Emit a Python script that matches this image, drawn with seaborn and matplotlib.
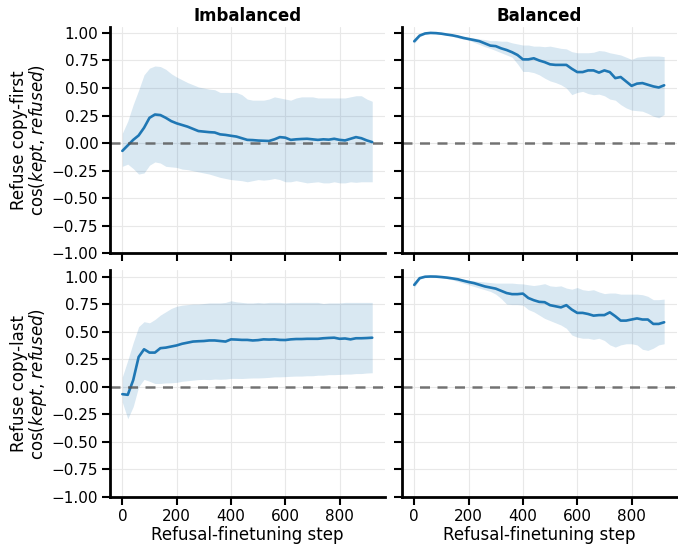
import numpy as np
import pandas as pd
import matplotlib
matplotlib.use("Agg")
import matplotlib.pyplot as plt
import seaborn as sns

steps = list(range(0, 921, 20))

imb_first_mean = [-0.07, -0.02, 0.03, 0.07, 0.14, 0.23, 0.26, 0.255, 0.23, 0.20, 0.18, 0.165, 0.15, 0.13, 0.11, 0.105,
                  0.10, 0.097, 0.08, 0.075, 0.067, 0.06, 0.045, 0.03, 0.028, 0.024, 0.022, 0.02, 0.035, 0.055, 0.05,
                  0.03, 0.035, 0.038, 0.04, 0.035, 0.03, 0.035, 0.032, 0.04, 0.03, 0.025, 0.04, 0.055, 0.045, 0.025, 0.01]
imb_first_hi = [0.09, 0.20, 0.35, 0.48, 0.62, 0.68, 0.70, 0.695, 0.67, 0.63, 0.60, 0.575, 0.55, 0.53, 0.51, 0.50,
                0.49, 0.485, 0.46, 0.46, 0.46, 0.46, 0.44, 0.40, 0.39, 0.39, 0.39, 0.40, 0.42, 0.41, 0.40,
                0.39, 0.41, 0.42, 0.42, 0.42, 0.41, 0.41, 0.41, 0.41, 0.41, 0.41, 0.42, 0.43, 0.43, 0.40, 0.38]
imb_first_lo = [-0.21, -0.19, -0.23, -0.28, -0.27, -0.20, -0.17, -0.18, -0.21, -0.215, -0.22, -0.235, -0.24, -0.25,
                -0.26, -0.27, -0.28, -0.295, -0.31, -0.32, -0.33, -0.335, -0.34, -0.35, -0.34, -0.33, -0.335, -0.33,
                -0.32, -0.33, -0.35, -0.35, -0.34, -0.35, -0.36, -0.355, -0.35, -0.36, -0.36, -0.35, -0.36, -0.36,
                -0.35, -0.355, -0.35, -0.35, -0.35]

bal_first_mean = [0.924, 0.976, 0.995, 1.0, 0.998, 0.993, 0.985, 0.978, 0.968, 0.955, 0.945, 0.935, 0.925, 0.905,
                  0.885, 0.88, 0.86, 0.845, 0.825, 0.80, 0.76, 0.76, 0.77, 0.75, 0.735, 0.715, 0.71, 0.71, 0.71,
                  0.675, 0.645, 0.645, 0.66, 0.66, 0.64, 0.66, 0.645, 0.59, 0.60, 0.56, 0.52, 0.54, 0.545, 0.53,
                  0.515, 0.505, 0.525]
bal_first_hi = [0.94, 0.985, 1.0, 1.0, 1.0, 0.998, 0.99, 0.985, 0.978, 0.97, 0.96, 0.955, 0.945, 0.94, 0.93, 0.93,
                0.925, 0.925, 0.91, 0.90, 0.89, 0.89, 0.88, 0.88, 0.875, 0.88, 0.87, 0.86, 0.855, 0.83, 0.82, 0.82,
                0.82, 0.825, 0.84, 0.835, 0.82, 0.81, 0.80, 0.78, 0.76, 0.78, 0.785, 0.79, 0.79, 0.79, 0.785]
bal_first_lo = [0.905, 0.965, 0.99, 0.997, 0.995, 0.988, 0.98, 0.97, 0.955, 0.945, 0.935, 0.915, 0.895, 0.875, 0.86,
                0.84, 0.82, 0.80, 0.78, 0.72, 0.65, 0.65, 0.64, 0.62, 0.59, 0.565, 0.55, 0.53, 0.50, 0.44, 0.46,
                0.47, 0.45, 0.44, 0.445, 0.43, 0.40, 0.39, 0.35, 0.32, 0.30, 0.295, 0.29, 0.27, 0.245, 0.23, 0.26]

imb_last_mean = [-0.067, -0.073, 0.06, 0.27, 0.34, 0.31, 0.31, 0.35, 0.355, 0.365, 0.375, 0.39, 0.40, 0.41, 0.413,
                 0.415, 0.42, 0.42, 0.415, 0.41, 0.43, 0.428, 0.425, 0.425, 0.42, 0.423, 0.43, 0.428, 0.43, 0.425,
                 0.424, 0.43, 0.433, 0.433, 0.435, 0.435, 0.435, 0.44, 0.443, 0.445, 0.435, 0.438, 0.43, 0.44, 0.44,
                 0.442, 0.445]
imb_last_hi = [0.09, 0.24, 0.40, 0.545, 0.59, 0.58, 0.61, 0.65, 0.68, 0.71, 0.73, 0.74, 0.745, 0.75, 0.75, 0.755,
               0.76, 0.76, 0.76, 0.765, 0.78, 0.77, 0.765, 0.76, 0.76, 0.765, 0.76, 0.765, 0.765, 0.765, 0.76,
               0.765, 0.765, 0.765, 0.765, 0.765, 0.765, 0.755, 0.76, 0.76, 0.76, 0.765, 0.765, 0.765, 0.765,
               0.765, 0.765]
imb_last_lo = [-0.14, -0.29, -0.18, 0.0, 0.067, 0.05, 0.03, 0.03, 0.035, 0.036, 0.04, 0.05, 0.055, 0.06, 0.065,
               0.067, 0.065, 0.07, 0.068, 0.07, 0.076, 0.076, 0.075, 0.078, 0.08, 0.08, 0.082, 0.085, 0.09, 0.09,
               0.092, 0.095, 0.097, 0.097, 0.10, 0.10, 0.105, 0.105, 0.11, 0.11, 0.112, 0.115, 0.115, 0.12, 0.12,
               0.125, 0.127]

bal_last_mean = [0.924, 0.985, 0.998, 1.0, 0.999, 0.995, 0.99, 0.983, 0.975, 0.962, 0.95, 0.94, 0.925, 0.91, 0.9,
                 0.89, 0.87, 0.85, 0.84, 0.84, 0.845, 0.805, 0.785, 0.77, 0.767, 0.74, 0.73, 0.72, 0.74, 0.70, 0.67,
                 0.67, 0.66, 0.645, 0.65, 0.65, 0.675, 0.64, 0.60, 0.60, 0.61, 0.62, 0.61, 0.61, 0.57, 0.57, 0.585]
bal_last_hi = [0.94, 0.99, 1.0, 1.0, 1.0, 1.0, 0.998, 0.99, 0.985, 0.975, 0.965, 0.96, 0.955, 0.95, 0.945, 0.94,
               0.94, 0.94, 0.94, 0.935, 0.933, 0.925, 0.918, 0.925, 0.935, 0.915, 0.91, 0.915, 0.895, 0.885, 0.90,
               0.88, 0.873, 0.88, 0.86, 0.845, 0.85, 0.85, 0.84, 0.84, 0.84, 0.84, 0.835, 0.82, 0.79, 0.79, 0.795]
bal_last_lo = [0.90, 0.975, 0.995, 0.998, 0.996, 0.99, 0.98, 0.97, 0.955, 0.94, 0.925, 0.91, 0.895, 0.88, 0.865,
               0.84, 0.80, 0.75, 0.745, 0.745, 0.74, 0.70, 0.68, 0.65, 0.62, 0.60, 0.58, 0.56, 0.53, 0.47, 0.45,
               0.44, 0.44, 0.43, 0.44, 0.42, 0.38, 0.36, 0.38, 0.39, 0.39, 0.38, 0.34, 0.33, 0.35, 0.38, 0.39]

col_titles = ["Imbalanced", "Balanced"]
row_labels = ["Refuse copy-first", "Refuse copy-last"]
x_label = "Refusal-finetuning step"
y_ticks = [-1.0, -0.75, -0.5, -0.25, 0.0, 0.25, 0.5, 0.75, 1.0]
x_ticks = [0, 200, 400, 600, 800]

panels = [
    [(imb_first_mean, imb_first_lo, imb_first_hi), (bal_first_mean, bal_first_lo, bal_first_hi)],
    [(imb_last_mean, imb_last_lo, imb_last_hi), (bal_last_mean, bal_last_lo, bal_last_hi)],
]

sns.set_theme(style="ticks")
plt.rcParams["font.family"] = ["DejaVu Sans"]
for key in ["text.color", "axes.labelcolor", "xtick.color", "ytick.color"]:
    plt.rcParams[key] = "black"
color = "#1f77b4"

fig, axes = plt.subplots(2, 2, figsize=(6.78, 5.48), dpi=100, sharex=True, sharey=True)
fig.subplots_adjust(left=0.162, right=0.998, top=0.951, bottom=0.093, wspace=0.062, hspace=0.075)

for r in range(2):
    for c in range(2):
        ax = axes[r, c]
        m, lo, hi = panels[r][c]
        df = pd.DataFrame({"step": steps, "mean": m, "lo": lo, "hi": hi})
        ax.fill_between(df["step"], df["lo"], df["hi"], color=color, alpha=0.17, linewidth=0)
        sns.lineplot(data=df, x="step", y="mean", ax=ax, color=color, linewidth=1.9)
        ax.axhline(0, color="#555555", linestyle=(0, (4, 3)), linewidth=1.8, alpha=0.8)
        ax.grid(True, color="#e8e8e8", linewidth=0.8)
        ax.set_axisbelow(True)
        ax.set_ylim(-1.0, 1.055)
        ax.set_yticks(y_ticks)
        ax.set_xticks(x_ticks)
        ax.tick_params(axis="both", width=1.5, length=5.8, pad=2.5, labelsize=11, color="black",
                       labelcolor="black")
        for s in ["left", "bottom"]:
            ax.spines[s].set_linewidth(2.0)
            ax.spines[s].set_color("black")
        sns.despine(ax=ax)
        if r == 1:
            ax.set_xlabel(x_label, fontsize=12, labelpad=1.5, color="black")
        else:
            ax.set_xlabel("")
        if c == 0:
            ax.set_ylabel(row_labels[r] + "\n" + r"cos($\it{kept}$, $\it{refused}$)", fontsize=12,
                          linespacing=0.95, color="black")
            ax.yaxis.set_label_coords(-0.222, 0.5)
        else:
            ax.set_ylabel("")
        if r == 0:
            ax.set_title(col_titles[c], fontsize=12, fontweight="bold", pad=4, color="black")

fig.savefig("out.png", dpi=100)
